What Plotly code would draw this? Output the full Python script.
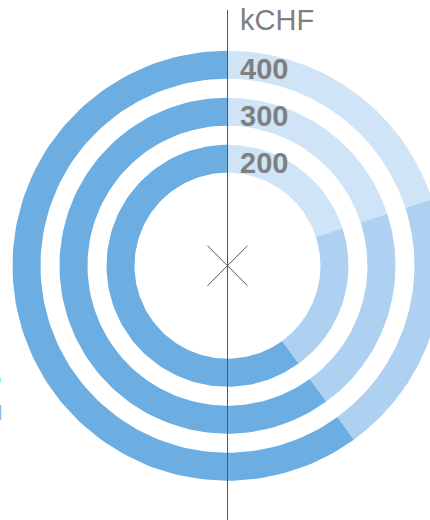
import numpy as np
import plotly.graph_objects as go

# ---- data ----
ring_values = [400, 300, 200]            # kCHF, one ring each
ring_labels = ["400", "300", "200"]
segment_names = ["light", "medium", "dark"]
segment_shares = [20, 20, 60]            # percent of each ring, clockwise from 12 o'clock
segment_colors = ["#d0e4f7", "#aed0f1", "#6caee2"]
unit_label = "kCHF"

# ---- layout constants ----
W, H = 430, 520
CX_PX, CY_PX = 227.5, 265.7
RING_W = 28
def r_outer(v):           # radial scale (px per kCHF)
    return 27 + 0.47 * v

fig = go.Figure()

for v in ring_values:
    ro = r_outer(v)
    ri = ro - RING_W
    start = 0.0
    for name, share, col in zip(segment_names, segment_shares, segment_colors):
        end = start + share / 100 * 360
        ang = np.radians(np.linspace(start, end, 120))
        xo, yo = ro * np.sin(ang), ro * np.cos(ang)
        xi, yi = ri * np.sin(ang[::-1]), ri * np.cos(ang[::-1])
        fig.add_trace(go.Scatter(
            x=np.concatenate([xo, xi, xo[:1]]), y=np.concatenate([yo, yi, yo[:1]]),
            mode="lines", fill="toself", fillcolor=col, line=dict(width=0, color=col),
            hoverinfo="skip", showlegend=False))
        start = end

for v, lab in zip(ring_values, ring_labels):
    fig.add_annotation(x=10, y=r_outer(v) - RING_W / 2 - 4, xref="x", yref="y",
                       text=f"<b>{lab}</b>", showarrow=False, xanchor="left", yanchor="middle",
                       font=dict(family="Liberation Sans, Arial", size=29, color="#7f7f7f"))

fig.add_annotation(x=10, y=CY_PX - 20, xref="x", yref="y", text=unit_label, showarrow=False,
                   xanchor="left", yanchor="middle",
                   font=dict(family="Liberation Sans, Arial", size=29, color="#7f7f7f"))

# cut-off text at the left edge
fig.add_annotation(x=0, y=1 - 379 / H, xref="paper", yref="paper", text="o", showarrow=False,
                   xanchor="right", yanchor="middle", xshift=3,
                   font=dict(family="Liberation Sans, Arial", size=16, color="#4a8fd6"))
fig.add_annotation(x=0, y=1 - 413 / H, xref="paper", yref="paper", text="l", showarrow=False,
                   xanchor="right", yanchor="middle", xshift=4,
                   font=dict(family="Liberation Sans, Arial", size=20, color="#8fbde9"))

# axis line and centre cross
fig.add_shape(type="line", x0=0, x1=0, y0=CY_PX - 10, y1=CY_PX - H, xref="x", yref="y",
              line=dict(color="#555555", width=1))
for s in (1, -1):
    fig.add_shape(type="line", x0=-20, x1=20, y0=-20 * s, y1=20 * s, xref="x", yref="y",
                  line=dict(color="#555555", width=1))

fig.update_layout(
    width=W, height=H, margin=dict(l=0, r=0, t=0, b=0),
    paper_bgcolor="white", plot_bgcolor="white",
    xaxis=dict(range=[-CX_PX, W - CX_PX], visible=False, fixedrange=True),
    yaxis=dict(range=[CY_PX - H, CY_PX], visible=False, fixedrange=True),
    showlegend=False,
)
fig.write_html("out.html", config={"displayModeBar": False},
               post_script="document.body.style.margin='0';document.body.style.overflow='hidden';")
